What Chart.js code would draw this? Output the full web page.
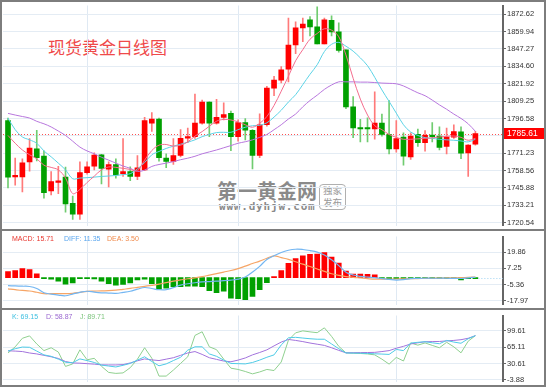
<!DOCTYPE html>
<html><head><meta charset="utf-8">
<script src="https://cdn.jsdelivr.net/npm/chart.js@4.4.0/dist/chart.umd.min.js"></script>
<style>
html,body{margin:0;padding:0;background:#fff;width:550px;height:387px;overflow:hidden;}
#wrap{position:relative;width:550px;height:387px;font-family:"Liberation Sans",Arial,sans-serif;}
.cv{position:absolute;left:0;}
.ln{position:absolute;background:#7d7d7d;}
.lg{position:absolute;font-size:7px;line-height:8px;white-space:nowrap;}
</style></head><body>
<div id="wrap">
<div style="position:absolute;left:48px;top:36px;font-family:'Noto Sans CJK SC';font-size:17px;line-height:22px;color:#ef4a4a;">现货黄金日线图</div>
<div style="position:absolute;left:217px;top:179px;font-family:'Noto Sans CJK SC';font-weight:bold;font-size:20px;line-height:24px;color:#8a8a8a;">第一黄金网</div>
<div style="position:absolute;left:219px;top:201px;font-family:'DejaVu Sans Mono';font-weight:bold;font-size:11px;line-height:12px;letter-spacing:0.8px;color:#8a8a8a;">www.dyhjw.com</div>
<div style="position:absolute;left:319px;top:184px;width:25px;height:24px;border:1px solid #b0b0b0;border-radius:4px;font-family:'Noto Sans CJK SC';font-size:9.5px;line-height:11.5px;color:#9a9a9a;text-align:center;">独家<br>发布</div>
<canvas id="c1" class="cv" style="top:0" width="550" height="231"></canvas>
<canvas id="c2" class="cv" style="top:231px" width="550" height="79"></canvas>
<canvas id="c3" class="cv" style="top:310px" width="550" height="77"></canvas>
<div class="lg" style="left:12px;top:235px;color:#e8352d">MACD: 15.71</div>
<div class="lg" style="left:64px;top:235px;color:#5aa6ee">DIFF: 11.35</div>
<div class="lg" style="left:107px;top:235px;color:#f08a4b">DEA: 3.50</div>
<div class="lg" style="left:12px;top:313px;color:#3bbfe0">K: 69.15</div>
<div class="lg" style="left:46px;top:313px;color:#9a68d0">D: 58.87</div>
<div class="lg" style="left:80px;top:313px;color:#7cc47c">J: 89.71</div>
<div class="ln" style="left:0;top:0;width:546px;height:2px"></div>
<div class="ln" style="left:0;top:0;width:2px;height:387px"></div>
<div class="ln" style="left:544px;top:0;width:2px;height:387px"></div>
<div class="ln" style="left:0;top:229px;width:546px;height:2px"></div>
<div class="ln" style="left:0;top:308px;width:546px;height:2px"></div>
<div class="ln" style="left:0;top:385px;width:546px;height:2px"></div>
</div>
<script>
const opens  = [1795.0,1754.0,1754.0,1764.9,1774.5,1769.1,1743.7,1750.0,1753.8,1734.7,1726.7,1757.1,1761.8,1770.0,1759.6,1763.0,1756.3,1757.8,1754.3,1759.0,1793.2,1796.2,1767.7,1765.3,1769.6,1782.3,1783.3,1793.2,1808.5,1793.2,1797.4,1800.3,1783.3,1793.6,1787.9,1769.6,1792.0,1818.7,1824.5,1832.5,1850.2,1862.7,1868.6,1863.4,1850.9,1868.2,1859.7,1846.7,1805.0,1789.6,1789.6,1788.9,1793.2,1784.9,1774.3,1783.0,1768.5,1785.1,1779.0,1784.4,1783.7,1776.2,1783.0,1786.8,1771.5,1777.8];
const highs  = [1796.9,1767.7,1767.2,1781.9,1787.9,1772.9,1757.8,1761.6,1761.1,1740.0,1764.9,1764.9,1771.5,1770.5,1764.9,1767.2,1781.9,1761.3,1769.6,1797.5,1800.8,1796.8,1770.8,1782.0,1788.5,1789.5,1814.4,1810.0,1808.8,1810.5,1808.0,1801.9,1795.5,1796.5,1788.5,1800.0,1820.0,1827.3,1834.4,1869.8,1867.0,1869.8,1871.0,1878.1,1869.8,1871.4,1866.3,1846.7,1812.5,1796.0,1797.0,1816.0,1799.8,1809.7,1795.0,1786.1,1786.1,1788.9,1787.7,1793.6,1790.4,1789.6,1792.0,1790.5,1777.5,1787.2];
const lows   = [1746.0,1747.9,1743.0,1758.2,1765.6,1738.4,1740.8,1741.8,1728.3,1723.0,1722.9,1756.0,1759.0,1748.8,1746.7,1753.1,1754.3,1751.2,1751.9,1758.5,1787.2,1765.5,1760.6,1763.0,1768.5,1779.0,1782.0,1792.5,1783.3,1792.5,1795.5,1773.1,1780.0,1781.0,1759.7,1768.0,1791.0,1813.2,1822.6,1823.2,1843.8,1852.6,1856.8,1850.9,1850.9,1856.8,1845.0,1803.8,1782.6,1779.5,1779.5,1781.4,1783.7,1770.8,1772.0,1762.5,1766.7,1776.2,1772.7,1779.5,1773.6,1770.8,1782.0,1767.2,1754.3,1777.1];
const closes = [1753.8,1754.6,1764.2,1775.0,1767.9,1742.5,1750.5,1751.0,1734.2,1726.7,1757.1,1761.3,1769.8,1760.1,1763.0,1755.4,1757.8,1754.3,1760.6,1795.0,1796.2,1767.9,1765.3,1769.6,1782.1,1783.3,1793.2,1808.5,1793.2,1797.4,1799.5,1783.3,1793.6,1788.0,1769.6,1792.0,1818.7,1824.5,1832.1,1850.2,1862.7,1865.5,1863.4,1850.9,1868.6,1859.7,1846.2,1805.0,1789.6,1788.9,1788.9,1793.2,1784.9,1774.3,1781.9,1769.1,1783.7,1779.0,1784.2,1783.3,1775.5,1783.0,1787.0,1771.2,1777.1,1785.61];

const ma5  = [1784.2,1778.5,1773.6,1770.1,1767.2,1762.5,1760.9,1759.1,1753.1,1741.8,1744.8,1749.9,1754.5,1759.1,1761.2,1760.9,1760.2,1759.4,1758.4,1766.2,1773.2,1777.1,1777.6,1776.4,1777.1,1779.5,1783.7,1787.0,1790.9,1794.6,1795.9,1795.5,1794.1,1792.0,1790.2,1793.0,1798.0,1806.1,1816.5,1827.4,1838.7,1846.8,1854.4,1858.6,1862.0,1861.0,1856.2,1842.9,1825.9,1810.7,1799.1,1791.3,1788.4,1784.9,1782.8,1781.4,1781.4,1781.7,1782.1,1782.4,1783.1,1783.5,1783.8,1782.8,1780.7,1782.1];
const ma10 = [1796.9,1788.4,1783.1,1781.0,1778.5,1772.9,1768.6,1764.0,1759.1,1752.6,1753.1,1753.4,1753.8,1754.3,1754.6,1755.0,1755.6,1756.3,1759.8,1764.4,1770.1,1772.5,1774.7,1776.4,1777.8,1779.3,1781.0,1783.3,1784.9,1786.3,1786.5,1786.5,1788.4,1790.2,1791.3,1791.6,1793.4,1797.6,1802.6,1808.6,1813.9,1821.3,1828.8,1835.8,1845.4,1850.7,1852.1,1849.3,1845.7,1840.8,1835.1,1826.6,1817.4,1809.0,1800.5,1792.0,1786.7,1784.2,1782.6,1782.1,1781.4,1781.0,1780.7,1780.2,1779.5,1781.4];
const ma20 = [1800.3,1799.1,1798.0,1796.9,1794.5,1792.7,1790.4,1787.4,1784.2,1780.0,1775.7,1772.9,1770.8,1768.3,1766.2,1764.0,1761.9,1760.2,1758.0,1758.9,1761.6,1763.0,1764.0,1765.1,1766.5,1767.6,1769.0,1770.8,1772.2,1773.6,1775.2,1776.8,1778.5,1779.6,1781.0,1782.8,1784.9,1788.4,1792.0,1796.2,1799.8,1805.1,1809.7,1813.6,1817.8,1821.0,1823.3,1823.3,1823.3,1823.1,1823.1,1822.8,1822.4,1822.2,1821.9,1820.3,1817.8,1815.3,1813.2,1810.0,1806.5,1803.3,1799.8,1796.6,1792.7,1787.2];

const macdHist = [4.6,5.4,7.0,6.3,3.0,-0.7,-1.2,-2.8,-5.2,-4.2,-0.5,-0.5,-1.0,-2.8,-4.7,-5.9,-5.4,-4.2,-1.9,-1.2,-4.7,-8.9,-8.2,-7.0,-7.0,-6.6,-6.6,-7.0,-10.1,-11.7,-10.6,-16.0,-16.4,-17.1,-14.6,-9.4,-4.0,0.3,5.4,11.0,14.8,16.9,18.0,18.3,19.4,15.9,11.3,5.1,2.8,2.8,2.5,2.1,-0.3,-0.8,-0.8,-0.8,-0.3,-0.3,-0.3,-0.7,-0.7,-0.7,-0.7,-1.9,-0.5,-0.3];
const diffLine = [-6.3,-6.5,-6.7,-6.9,-8.5,-11.8,-12.8,-13.6,-14.1,-12.8,-11.5,-10.6,-11.3,-11.8,-12.0,-12.2,-11.5,-10.6,-9.0,-7.7,-8.5,-9.4,-9.4,-7.8,-5.9,-4.8,-4.0,-3.4,-3.1,-2.8,-2.4,-2.0,-1.2,0.5,4.3,8.7,14.1,16.9,19.5,21.2,22.0,21.8,21.0,19.8,17.5,13.8,9.3,4.2,2.0,1.0,0.4,0.0,-0.8,-1.4,-1.9,-1.6,-0.8,-0.6,-0.5,-0.5,-0.5,-0.5,-0.6,-0.7,-0.2,0.4];
const deaLine  = [-8.7,-9.4,-10.0,-10.4,-11.4,-12.5,-12.5,-12.5,-12.5,-12.2,-11.5,-10.7,-10.5,-10.3,-10.2,-9.8,-9.1,-8.4,-7.6,-6.8,-6.0,-5.1,-3.9,-2.8,-1.8,-0.9,-0.2,0.7,1.9,3.1,4.3,5.5,7.0,8.9,10.9,12.8,15.0,16.9,15.5,14.1,12.3,10.4,8.6,6.7,4.8,3.0,1.7,0.8,0.2,-0.3,-0.8,-1.2,-1.2,-1.2,-1.1,-1.0,-0.9,-0.8,-0.6,-0.5,-0.4,-0.3,-0.2,-0.1,0.2,0.4];

const kLine = [57,62,65.5,65,57,49,46,40,33.5,32.5,40.5,37,33,27.5,25.5,23.5,27,31,38,45,35,26,30,37,44,59,66,66,51,46,38,31,30.5,30,33,38,44,49,70,85,86,84.5,83,82,82,72,62,53,52.8,52.5,52,51.3,50.7,50,60.5,58,74,75.5,76.7,74.5,72.5,79.5,76,73.5,83,89.5];
const dLine = [57.7,57,56,53,51,48,45,41.5,35,32,31.5,30.5,29.5,28,27.8,27.8,28.5,32,36.5,40.5,38.5,37,40,43,48,53,56,50,43,39.5,36,34.5,38,42.5,49,54,59.6,68,76,81.5,79.5,77,74,71.5,69,64,58.5,53.3,53.5,53.8,54,54.3,56,58,63,67,72,74.5,76.7,77,77.3,78.5,79.5,81,84,89.5];
const jLine = [53,66,84,89,72,58,64,55,24.7,30,59.6,38.6,41.8,25,12,10,11,22,40,64,42,4.3,4.3,17,31,45,90,97.7,66,60,40,21,18.3,14,9,13,18.3,16,34,80,95.5,99.6,97.5,95.8,106,88,67,53.3,52.7,52,51,49,40,29.5,43.7,36.1,74,69.5,74.2,69,64,75.5,66,53.3,77.9,89.5];

const mainTicks = [1720.54,1733.21,1745.88,1758.56,1771.23,1783.90,1796.58,1809.25,1821.92,1834.60,1847.27,1859.94,1872.62];
const macdTicks = [-17.97,-5.36,7.25,19.86];
const kdjTicks  = [-3.88,30.61,65.11,99.61];
const monthStartIdx = [11,32,54];

const UP='#ff0000', DOWN='#00a000', UPW='#ff7a7a', DOWNW='#70cc70';
const pts = arr => arr.map((v,i)=>({x:i,y:v}));
const isUp = i => closes[i] >= opens[i];

function xScale(){
  return {type:'linear',min:-0.695,max:68.84,offset:false,display:true,
    grid:{color:'#dfe9f3',lineWidth:1,drawTicks:false,offset:false},
    border:{display:false},ticks:{display:false},
    afterBuildTicks:s=>{s.ticks=monthStartIdx.map(v=>({value:v}));},
    afterFit:s=>{s.height=0;}};
}
function yScale(min,max,tks){
  return {type:'linear',position:'right',min,max,
    grid:{color:'#e4ecf4',lineWidth:1,drawTicks:true,tickLength:3,tickColor:'#666'},
    border:{display:true,color:'#666',width:2},
    ticks:{font:{family:'Liberation Sans',size:7.5},color:'#333',padding:1,callback:v=>Number(v).toFixed(2)},
    afterBuildTicks:s=>{s.ticks=tks.map(v=>({value:v}));},
    afterFit:s=>{s.width=47;}};
}
const baseOpts = {responsive:false,animation:false,devicePixelRatio:1,
  plugins:{legend:{display:false},tooltip:{enabled:false}},
  layout:{padding:{left:3,top:2,bottom:2,right:0}}};

const pricePlugin = {id:'price',
  beforeDatasetsDraw(chart){
    const {ctx,chartArea:a,scales:{y}}=chart;
    const py=Math.round(y.getPixelForValue(closes[closes.length-1]))+0.5;
    ctx.save();ctx.strokeStyle='#ff5050';ctx.lineWidth=1;ctx.setLineDash([1,2]);
    ctx.beginPath();ctx.moveTo(a.left,py);ctx.lineTo(a.right,py);ctx.stroke();ctx.restore();
  },
  afterDraw(chart){
    const {ctx,chartArea:a,scales:{y}}=chart;
    const v=closes[closes.length-1];
    const py=y.getPixelForValue(v);
    ctx.save();ctx.fillStyle='#ff0000';ctx.fillRect(a.right+1,Math.round(py-5.5),40,11);
    ctx.fillStyle='#ffffff';ctx.font='8.5px "Liberation Sans"';ctx.textBaseline='middle';
    ctx.fillText(v.toFixed(2),a.right+4,py+0.5);ctx.restore();
  }};

new Chart(document.getElementById('c1'),{
  type:'bar',
  data:{datasets:[
    {type:'line',data:pts(ma5),borderColor:'#f46d8e',borderWidth:1,pointRadius:0,tension:0.35,order:0},
    {type:'line',data:pts(ma10),borderColor:'#5cd3e6',borderWidth:1,pointRadius:0,tension:0.35,order:0},
    {type:'line',data:pts(ma20),borderColor:'#b877dd',borderWidth:1,pointRadius:0,tension:0.35,order:0},
    {type:'bar',data:opens.map((o,i)=>({x:i,y:[o,closes[i]]})),
      backgroundColor:opens.map((o,i)=>isUp(i)?UP:DOWN),grouped:false,barPercentage:1,categoryPercentage:1,
      maxBarThickness:5,minBarLength:1.5,order:1},
    {type:'bar',data:lows.map((l,i)=>({x:i,y:[l,highs[i]]})),
      backgroundColor:lows.map((l,i)=>isUp(i)?UPW:DOWNW),grouped:false,barPercentage:1,categoryPercentage:1,
      maxBarThickness:1,order:2}
  ]},
  options:Object.assign({},baseOpts,{scales:{x:xScale(),y:yScale(1718.5,1879,mainTicks)}}),
  plugins:[pricePlugin]
});

const zeroPlugin = {id:'zero',
  afterDatasetsDraw(chart){
    const {ctx,chartArea:a,scales:{x,y}}=chart;
    const py=Math.round(y.getPixelForValue(0))+0.5;
    const x0=x.getPixelForValue(macdHist.length-1)+3;
    ctx.save();ctx.strokeStyle='#9fd3f2';ctx.lineWidth=1;ctx.setLineDash([1,2]);
    ctx.beginPath();ctx.moveTo(x0,py);ctx.lineTo(a.right,py);ctx.stroke();ctx.restore();
  }};

new Chart(document.getElementById('c2'),{
  type:'bar',
  data:{datasets:[
    {type:'line',data:pts(diffLine),borderColor:'#73b6f2',borderWidth:1.2,pointRadius:0,tension:0.4,order:0},
    {type:'line',data:pts(deaLine),borderColor:'#f6a566',borderWidth:1.2,pointRadius:0,tension:0.4,order:0},
    {type:'bar',data:pts(macdHist),backgroundColor:macdHist.map(v=>v>=0?UP:DOWN),grouped:false,
      barPercentage:1,categoryPercentage:1,maxBarThickness:5,minBarLength:1,order:1}
  ]},
  options:Object.assign({},baseOpts,{scales:{x:xScale(),y:yScale(-20.9,31.9,macdTicks)}}),
  plugins:[zeroPlugin]
});

new Chart(document.getElementById('c3'),{
  type:'line',
  data:{datasets:[
    {data:pts(kLine),borderColor:'#4fcbe6',borderWidth:1,pointRadius:0,tension:0},
    {data:pts(dLine),borderColor:'#a273dc',borderWidth:1,pointRadius:0,tension:0},
    {data:pts(jLine),borderColor:'#8fd08f',borderWidth:1,pointRadius:0,tension:0}
  ]},
  options:Object.assign({},baseOpts,{scales:{x:xScale(),y:yScale(-7.1,132,kdjTicks)}})
});
</script>
</body></html>
